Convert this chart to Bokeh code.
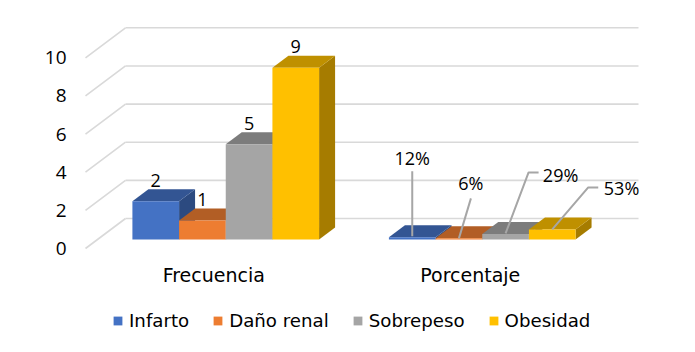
from bokeh.plotting import figure
from bokeh.embed import file_html
from bokeh.resources import INLINE
from bokeh.models import Range1d, LinearAxis, FixedTicker, Legend, LegendItem
from bokeh.core.properties import value

categories = ["Frecuencia", "Porcentaje"]
series_names = ["Infarto", "Daño renal", "Sobrepeso", "Obesidad"]
frecuencia = [2, 1, 5, 9]
porcentaje = [0.12, 0.06, 0.29, 0.53]
porcentaje_labels = ["12%", "6%", "29%", "53%"]
y_ticks = [0, 2, 4, 6, 8, 10]

front_colors = ["#4472c4", "#ed7d31", "#a5a5a5", "#ffc000"]
top_colors = ["#335593", "#b25e25", "#7c7c7c", "#bf9000"]
side_colors = ["#2c4a80", "#a0551f", "#6e6e6e", "#a67c00"]
FONT = "DejaVu Sans"
NUM_FONT = "Open Sans"

# layout, in picture pixels (the figure sits at the picture's top-left corner)
W, H = 690, 345
FL, FR, FT, FB = 70, 660, 8, 345      # plot frame
X0, Y0 = 97, 239                      # bar-plane origin
PX_X, PX_Y = 256.5, 19.07             # px per category / per value unit

def dx(px): return px / PX_X
def dy(px): return px / PX_Y

p = figure(width=W, height=H, output_backend="svg", toolbar_location=None,
           x_range=Range1d((FL - X0) / PX_X, (FR - X0) / PX_X),
           y_range=Range1d((Y0 - FB) / PX_Y, (Y0 - FT) / PX_Y),
           min_border_left=FL, min_border_right=W - FR,
           min_border_top=FT, min_border_bottom=0)
p.outline_line_color = None
p.grid.visible = False
p.xaxis.visible = False
p.yaxis.visible = False

# the value axis lives on the chart's front plane, shifted from the bar plane
p.extra_y_ranges["front"] = Range1d((248 - FB) / PX_Y, (248 - FT) / PX_Y)

yax = LinearAxis(y_range_name="front", ticker=FixedTicker(ticks=y_ticks),
                 axis_line_color=None, major_tick_line_color=None, minor_tick_line_color=None,
                 major_label_text_font=NUM_FONT, major_label_text_font_size="19px",
                 major_label_text_color="#000000", major_label_standoff=-2)
p.add_layout(yax, "left")

# walls: back-plane gridlines and left-wall diagonals
GRID = "#d9d9d9"
BACK_X, BACK_Y = dx(28), dy(21)
FRONT_X, FRONT_Y = dx(-12), dy(-9)
for t in y_ticks:
    p.line([BACK_X, 2 + BACK_X], [t + BACK_Y, t + BACK_Y], line_color=GRID, line_width=1.6)
    p.line([FRONT_X, BACK_X], [t + FRONT_Y, t + BACK_Y], line_color=GRID, line_width=1.6)

BAR = 46.67 / PX_X
DX, DY = dx(16), dy(12)
legend_items = []
for g, vals in enumerate([frecuencia, porcentaje]):
    left0 = g + 0.5 - 2 * BAR
    for i, v in enumerate(vals):
        l, r = left0 + i * BAR, left0 + (i + 1) * BAR
        p.patch([r, r + DX, r + DX, r], [0, DY, v + DY, v], fill_color=side_colors[i], line_color=None)
        p.patch([l, l + DX, r + DX, r], [v, v + DY, v + DY, v], fill_color=top_colors[i], line_color=None)
        q = p.quad(left=l, right=r, bottom=0, top=v, fill_color=front_colors[i], line_color=None)
        if g == 0:
            legend_items.append(LegendItem(label=series_names[i], renderers=[q]))

# category labels
p.text([0.5 + FRONT_X, 1.5 + FRONT_X], [dy(-35), dy(-35)], text=categories, text_font=value(FONT),
       text_font_size="19px", text_color="#000000", text_align="center", text_baseline="middle")

# value labels of the first cluster
for i, v in enumerate(frecuencia):
    x = 0.5 - 2 * BAR + (i + 0.5) * BAR
    p.text([x], [v + dy(21)], text=[str(v)], text_font=value(NUM_FONT), text_font_size="18px",
           text_color="#000000", text_align="center", text_baseline="middle")

# callout labels of the second cluster: offsets from each bar's centre, in px
label_off = [(0, 79), (12, 55), (55, 58.5), (69.3, 41)]
leader_off = [
    [(0, 66), (0, 1)],
    [(12, 40), (0, 0)],
    [(33, 61.5), (23, 61.5), (0, 0.5)],
    [(46, 42), (36, 42), (0, 0)],
]
for i, v in enumerate(porcentaje):
    x = 1.5 - 2 * BAR + (i + 0.5) * BAR
    pts = leader_off[i]
    p.line([x + dx(a) for a, b in pts], [v + dy(b) for a, b in pts],
           line_color="#a6a6a6", line_width=2)
    ox, oy = label_off[i]
    p.text([x + dx(ox)], [v + dy(oy)], text=[porcentaje_labels[i]], text_font=value(NUM_FONT),
           text_font_size="18px", text_color="#000000", text_align="center", text_baseline="middle")

legend = Legend(items=legend_items, orientation="horizontal", location=(42, 14),
                border_line_color=None, background_fill_alpha=0,
                label_text_font=FONT, label_text_font_size="18.2px", label_text_color="#000000",
                glyph_width=11, glyph_height=11, label_standoff=6, spacing=23,
                margin=0, padding=0)
p.add_layout(legend, "center")

open("out.html", "w").write(file_html(p, INLINE))
